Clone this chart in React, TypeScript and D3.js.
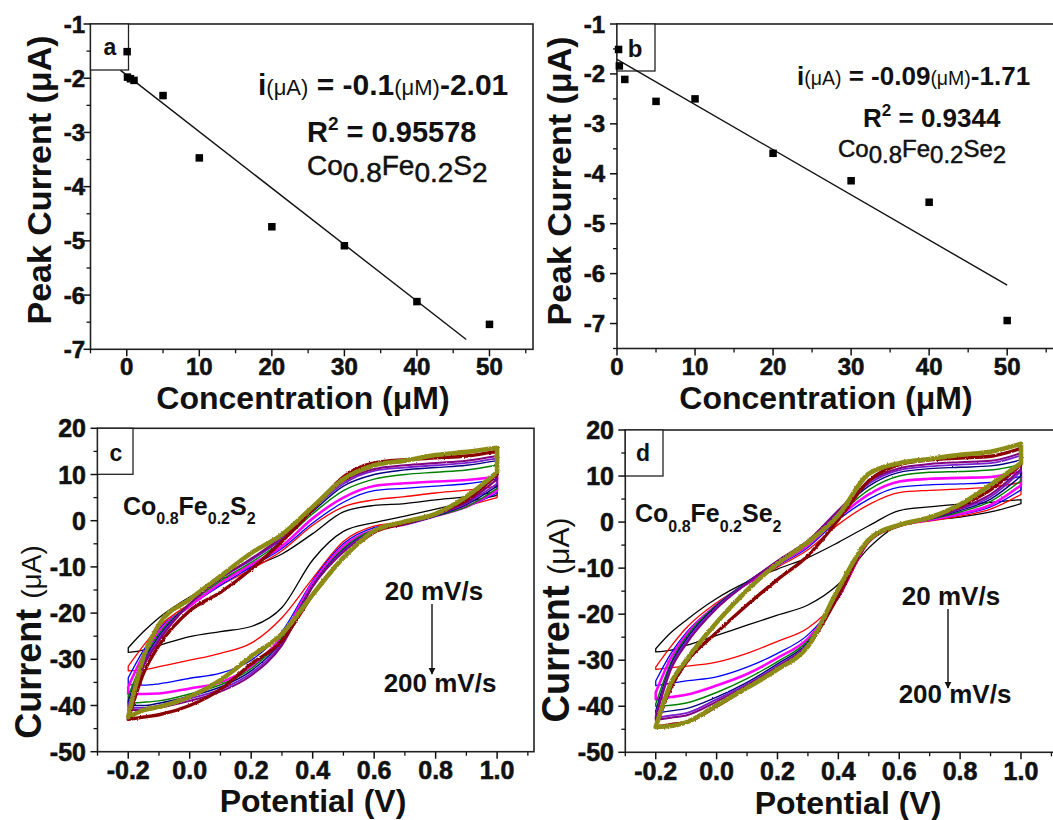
import React from "react";
import * as d3 from "d3";

const FONT = "'Liberation Sans', Arial, Helvetica, sans-serif";

// ---------------- Panel a: Co0.8Fe0.2S2 calibration ----------------
const CONC_A = [0.05, 0.1, 0.5, 1, 5, 10, 20, 30, 40, 50];
const PEAK_A = [-1.51, -1.98, -2.01, -2.04, -2.32, -3.47, -4.74, -5.09, -6.12, -6.54];
const FIT_A_X = [-0.9, 46.8];
const FIT_A_Y = [-1.85, -6.82];

// ---------------- Panel b: Co0.8Fe0.2Se2 calibration ----------------
const CONC_B = [0.2, 0.3, 1, 5, 10, 20, 30, 40, 50];
const PEAK_B = [-1.51, -1.84, -2.11, -2.55, -2.5, -3.59, -4.14, -4.57, -6.94];
const FIT_B_X = [0, 50];
const FIT_B_Y = [-1.71, -6.23];

// ---------------- tick values / labels ----------------
const CONC_TICKS = [0, 10, 20, 30, 40, 50];
const CONC_MINOR_A = [-5, 5, 15, 25, 35, 45, 55];
const CONC_MINOR_B = [5, 15, 25, 35, 45, 55];
const PEAK_TICKS_A = [-7, -6, -5, -4, -3, -2, -1];
const PEAK_MINOR_A = [-6.5, -5.5, -4.5, -3.5, -2.5, -1.5];
const PEAK_TICKS_B = [-7, -6, -5, -4, -3, -2, -1];
const PEAK_MINOR_B = [-7.5, -6.5, -5.5, -4.5, -3.5, -2.5, -1.5];
const POT_TICKS = [-0.2, 0, 0.2, 0.4, 0.6, 0.8, 1.0];
const POT_TICK_LABELS = ["-0.2", "0.0", "0.2", "0.4", "0.6", "0.8", "1.0"];
const POT_MINOR = [-0.3, -0.1, 0.1, 0.3, 0.5, 0.7, 0.9, 1.1];
const CUR_TICKS = [-50, -40, -30, -20, -10, 0, 10, 20];
const CUR_MINOR = [-45, -35, -25, -15, -5, 5, 15];

// ---------------- CV curves (panels c, d) ----------------
const POTENTIAL = [-0.2, -0.15, -0.1, 0, 0.1, 0.2, 0.3, 0.4, 0.5, 0.6, 0.7, 0.8, 0.9, 1.0];
const SCAN_RATES = [20, 40, 60, 80, 100, 120, 140, 160, 180, 200];
const CURVE_COLORS = ["#000000", "#ff0000", "#0000ff", "#ff00ff", "#008000", "#000080", "#7b1fd0", "#800080", "#8b0000", "#8c8c14"];
const CURVE_WIDTHS = [1.3, 1.3, 1.3, 2.6, 1.5, 1.4, 1.8, 2.0, 3.4, 4.6];
const CURVE_NOISE = [0, 0, 0, 1, 1, 1, 1, 1, 2, 2];

const CV_C_FORWARD = [
  [-27.5, -24, -21, -16.5, -12.8, -10, -7.2, -2.8, 1.9, 3.3, 3.7, 4.5, 5.2, 6.3],
  [-31.5, -27, -23, -18, -14, -10.5, -6.5, -1, 3, 4.5, 5.2, 6, 6.6, 7.5],
  [-34, -28, -23.5, -18.5, -14, -10, -6, -0.5, 4, 6.5, 7, 7.5, 8, 9],
  [-36, -29, -24, -18.5, -13.5, -9.5, -5.5, 0.5, 5, 7.5, 8.1, 8.5, 8.8, 9.5],
  [-38, -30, -24.5, -18, -13, -9, -4.5, 1.5, 6.5, 9, 10, 10.5, 11, 12],
  [-39, -30.5, -25, -18, -12.5, -8.5, -4, 2, 7.5, 10, 11, 11.5, 12, 13],
  [-40, -31, -25.5, -18, -12.5, -8.5, -3.8, 2.5, 8, 10.8, 11.5, 12, 12.5, 13.5],
  [-41, -31.5, -26, -18, -12.5, -8.2, -3.5, 3, 8.5, 11.2, 12, 12.5, 13, 14],
  [-43, -33, -27, -19.5, -15.5, -10.5, -4.5, 2.5, 9.5, 12.5, 13.2, 13.6, 14, 15],
  [-42.5, -29.4, -22.5, -17, -12, -7, -3, 3, 9, 12, 13, 14.2, 14.9, 15.8],
];
const CV_C_REVERSE = [
  [-28.5, -28, -27, -25.1, -24, -22.9, -18.8, -8.5, -2.3, -0.4, 1, 2.5, 4, 5.5],
  [-32.5, -32.3, -31.6, -30.2, -28.7, -26.5, -21, -12.5, -4.5, -1.2, -0.3, 1.5, 3.2, 5],
  [-35.5, -35.6, -35.3, -34.1, -33, -30.2, -24, -13, -5, -1.5, -0.5, 1.5, 3, 6],
  [-37.5, -37.5, -37.4, -36.3, -35, -31.5, -25, -13.5, -5.5, -2, -0.8, 1, 3, 6.5],
  [-39.5, -39.3, -39, -37.5, -35.5, -32, -25.5, -14, -6, -2, -0.8, 1, 3, 7],
  [-40, -40, -39.5, -38, -36, -32.5, -26, -14, -6.3, -2.2, -0.8, 1, 3.5, 7.5],
  [-40.5, -40.5, -40, -38.5, -36.5, -33, -26.5, -14.2, -6.5, -2.3, -0.7, 1.2, 3.8, 8],
  [-41, -41, -40.5, -39, -37, -33.5, -27, -14.3, -6.8, -2.4, -0.6, 1.4, 4, 9],
  [-43, -42.5, -42, -40, -36.5, -31, -26, -16, -8, -2.5, -0.5, 1.5, 4.5, 10],
  [-42.5, -41, -40.3, -38.1, -34.5, -29.4, -24.5, -16, -8, -2.2, -0.2, 1.5, 5.2, 10.5],
];
const CV_D_FORWARD = [
  [-27.5, -24, -21.3, -16.6, -13, -10.2, -7.7, -4.4, -0.8, 2.5, 3.3, 3.9, 4.3, 4.9],
  [-31.5, -27, -23, -17.5, -13.5, -9.8, -6, -0.5, 3.8, 6.4, 6.9, 7.2, 7.6, 8.6],
  [-34.5, -28.5, -24, -18, -13.5, -9.5, -5.5, 0.5, 5, 7.6, 8.1, 8.3, 8.6, 10],
  [-37, -29.5, -24.5, -18, -13.3, -9.2, -5, 1, 6, 8.8, 9.4, 9.6, 9.8, 11],
  [-39.5, -30.5, -25, -18, -13, -8.8, -4.6, 1.5, 7, 10, 10.8, 11, 11.3, 12.5],
  [-41, -31, -25.5, -18.2, -13, -8.6, -4.3, 2, 7.8, 10.8, 11.6, 11.9, 12.2, 13.5],
  [-42, -31.5, -26, -18.5, -13.2, -8.5, -4.1, 2.3, 8.3, 11.3, 12.1, 12.5, 12.8, 14.5],
  [-42.5, -32, -26.5, -18.8, -13.3, -8.4, -4, 2.6, 8.8, 11.7, 12.6, 13, 13.3, 15],
  [-44.5, -36, -30.5, -24, -18, -12.5, -7.3, 0.5, 9, 12.5, 13.5, 13.9, 14.3, 16],
  [-44.5, -35, -30, -21.8, -14.8, -9, -4.4, 1.5, 10.5, 12.8, 13.7, 14.6, 15.3, 17],
];
const CV_D_REVERSE = [
  [-28.2, -27.8, -26.8, -24.6, -22.4, -20.2, -18, -13.5, -5.6, -0.7, 0.4, 1.1, 2.2, 4],
  [-32, -31.6, -31.3, -30.4, -28.5, -25.9, -23, -16.5, -4.5, -0.8, 0.2, 1.3, 2.8, 6],
  [-35.5, -35, -34.5, -33.6, -31.5, -28.5, -24.5, -16.5, -4.3, -0.8, 0.4, 1.6, 3.3, 7],
  [-38.5, -38, -37.5, -35.5, -33, -29.5, -25.3, -16.3, -4.2, -0.8, 0.5, 1.8, 3.7, 8],
  [-40, -39.8, -39.3, -37, -34, -30.3, -25.8, -16.2, -4.1, -0.8, 0.6, 2.2, 4.5, 9],
  [-41.5, -41, -40.5, -38, -34.8, -30.8, -26.2, -16.1, -4, -0.8, 0.7, 2.5, 5, 10],
  [-42.5, -42, -41.5, -38.5, -35.2, -31.2, -26.5, -16, -3.9, -0.8, 0.8, 2.8, 5.5, 11],
  [-43, -42.5, -42, -39, -35.5, -31.5, -26.7, -16, -3.9, -0.8, 0.8, 3, 6, 11.5],
  [-44.5, -44, -43.5, -40, -36, -32, -27, -16, -4, -0.8, 0.9, 3.5, 7, 12.5],
  [-44.5, -44.3, -43.5, -39.8, -36, -32, -27, -14.5, -3.8, -0.6, 1, 3.8, 8.1, 12.8],
];

type Scale = d3.ScaleLinear<number, number>;

const HEAVY = { stroke: "#111", strokeWidth: 0.6, paintOrder: "stroke" as const };
const NOISE_FILTERS = ["", "url(#noiseWeak)", "url(#noiseStrong)"];

function YAxis({ sy, x, major, minor, labels, labelX, fontSize }: { sy: Scale; x: number; major: number[]; minor: number[]; labels: string[]; labelX: number; fontSize: number }) {
  return (
    <g>
      {major.map((v) => (
        <line key={"M" + v} x1={x} x2={x - 7} y1={sy(v)} y2={sy(v)} stroke="#111" strokeWidth={1.5} />
      ))}
      {minor.map((v) => (
        <line key={"m" + v} x1={x} x2={x - 4} y1={sy(v)} y2={sy(v)} stroke="#111" strokeWidth={1.3} />
      ))}
      {major.map((v, i) => (
        <text key={"t" + v} x={labelX} y={sy(v)} textAnchor="end" dominantBaseline="central" fontSize={fontSize} fontWeight="bold" fill="#111" style={HEAVY}>
          {labels[i]}
        </text>
      ))}
    </g>
  );
}

function XAxis({ sx, y, major, minor, labels, labelY, fontSize }: { sx: Scale; y: number; major: number[]; minor: number[]; labels: string[]; labelY: number; fontSize: number }) {
  return (
    <g>
      {major.map((v) => (
        <line key={"M" + v} x1={sx(v)} x2={sx(v)} y1={y} y2={y + 7} stroke="#111" strokeWidth={1.5} />
      ))}
      {minor.map((v) => (
        <line key={"m" + v} x1={sx(v)} x2={sx(v)} y1={y} y2={y + 4} stroke="#111" strokeWidth={1.3} />
      ))}
      {major.map((v, i) => (
        <text key={"t" + v} x={sx(v)} y={labelY} textAnchor="middle" fontSize={fontSize} fontWeight="bold" fill="#111" style={HEAVY}>
          {labels[i]}
        </text>
      ))}
    </g>
  );
}

function cvPath(up: number[], dn: number[], sx: Scale, sy: Scale) {
  const gen = d3
    .line<number>()
    .x((_, i) => sx(POTENTIAL[i]))
    .y((d) => sy(d))
    .curve(d3.curveMonotoneX);
  const n = POTENTIAL.length - 1;
  const a = gen(up) || "";
  const b = gen(dn) || "";
  const r = `M${sx(POTENTIAL[n])},${sy(up[n])}L${sx(POTENTIAL[n])},${sy(dn[n])}`;
  const l = `M${sx(POTENTIAL[0])},${sy(dn[0])}L${sx(POTENTIAL[0])},${sy(up[0])}`;
  return a + b + r + l;
}

function CVCurves({ fwd, rev, sx, sy }: { fwd: number[][]; rev: number[][]; sx: Scale; sy: Scale }) {
  return (
    <g fill="none" strokeLinejoin="round" strokeLinecap="round">
      {SCAN_RATES.map((rate, i) => (
        <path
          key={rate}
          d={cvPath(fwd[i], rev[i], sx, sy)}
          stroke={CURVE_COLORS[i]}
          strokeWidth={CURVE_WIDTHS[i]}
          filter={NOISE_FILTERS[CURVE_NOISE[i]] || undefined}
        />
      ))}
    </g>
  );
}

export default function App() {
  const xA = d3.scaleLinear().domain([-5, 56]).range([90.5, 533]);
  const yA = d3.scaleLinear().domain([-7, -1]).range([349.3, 24]);
  const xB = d3.scaleLinear().domain([0, 56]).range([617, 1054]);
  const yB = d3.scaleLinear().domain([-7.5, -1]).range([348.5, 24]);
  const xC = d3.scaleLinear().domain([-0.3, 1.12]).range([97.5, 534]);
  const yC = d3.scaleLinear().domain([-50, 20]).range([751.7, 428.3]);
  const xD = d3.scaleLinear().domain([-0.3, 1.12]).range([625.3, 1057.5]);
  const yD = d3.scaleLinear().domain([-50, 20]).range([752.3, 430]);

  const sq = 7.5;
  const concLabels = CONC_TICKS.map(String);
  const peakLabels = PEAK_TICKS_A.map(String);
  const curLabels = CUR_TICKS.map(String);

  return (
    <svg
      width={1053}
      height={820}
      viewBox="0 0 1053 820"
      style={{ position: "absolute", left: 0, top: 0, background: "#fff" }}
      fontFamily={FONT}
    >
      <defs>
        <filter id="noiseStrong" x="-5%" y="-5%" width="110%" height="110%">
          <feTurbulence type="fractalNoise" baseFrequency="0.7" numOctaves={1} seed={4} />
          <feDisplacementMap in="SourceGraphic" scale={2.6} xChannelSelector="R" yChannelSelector="G" />
        </filter>
        <filter id="noiseWeak" x="-5%" y="-5%" width="110%" height="110%">
          <feTurbulence type="fractalNoise" baseFrequency="0.8" numOctaves={1} seed={9} />
          <feDisplacementMap in="SourceGraphic" scale={1.8} xChannelSelector="R" yChannelSelector="G" />
        </filter>
        <marker id="arrowHead" viewBox="0 0 10 10" refX={9} refY={5} markerWidth={5} markerHeight={6} orient="auto">
          <path d="M0,0L10,5L0,10z" fill="#111" />
        </marker>
      </defs>
      <rect x={0} y={0} width={1053} height={820} fill="#fff" />

      {/* ================= Panel a ================= */}
      <g>
        <rect x={90.5} y={24} width={533 - 90.5} height={349.3 - 24} fill="none" stroke="#222" strokeWidth={1.6} />
        <path
          d={
            d3
              .line<number>()
              .x((d) => xA(d))
              .y((_, i) => yA(FIT_A_Y[i]))(FIT_A_X) || ""
          }
          stroke="#111"
          strokeWidth={1.4}
          fill="none"
        />
        <rect x={90.5} y={24} width={38} height={46} fill="#fff" stroke="#222" strokeWidth={1.3} />
        <text x={110} y={55} textAnchor="middle" fontSize={23} fontWeight="bold" fill="#111">a</text>
        {CONC_A.map((c, i) => (
          <rect key={i} x={xA(c) - sq / 2} y={yA(PEAK_A[i]) - sq / 2} width={sq} height={sq} fill="#000" />
        ))}
        <YAxis sy={yA} x={90.5} major={PEAK_TICKS_A} minor={PEAK_MINOR_A} labels={peakLabels} labelX={85} fontSize={24} />
        <XAxis sx={xA} y={349.3} major={CONC_TICKS} minor={CONC_MINOR_A} labels={concLabels} labelY={375} fontSize={24} />
        <text transform="translate(51,180) rotate(-90)" textAnchor="middle" fontSize={34} fontWeight="bold" fill="#111">
          Peak Current (μA)
        </text>
        <text x={303} y={409} textAnchor="middle" fontSize={32} fontWeight="bold" fill="#111">
          Concentration (μM)
        </text>
        <text x={258} y={95} fill="#111" style={{ whiteSpace: "pre" }}>
          <tspan fontSize={30} fontWeight="bold">i</tspan>
          <tspan fontSize={22}>(μA)</tspan>
          <tspan fontSize={30} fontWeight="bold"> = -0.1</tspan>
          <tspan fontSize={22}>(μM)</tspan>
          <tspan fontSize={30} fontWeight="bold">-2.01</tspan>
        </text>
        <text x={307} y={142} fill="#111" fontSize={29} fontWeight="bold" style={{ whiteSpace: "pre" }}>
          R<tspan dy={-12} fontSize={19}>2</tspan>
          <tspan dy={12}> = 0.95578</tspan>
        </text>
        <text x={307} y={175} fill="#111" fontSize={28} style={{ stroke: "#111", strokeWidth: 0.5 }}>
          Co<tspan dy={7}>0.8</tspan>
          <tspan dy={-7}>Fe</tspan>
          <tspan dy={7}>0.2</tspan>
          <tspan dy={-7}>S</tspan>
          <tspan dy={7}>2</tspan>
        </text>
      </g>

      {/* ================= Panel b ================= */}
      <g>
        <rect x={617} y={24} width={460} height={348.5 - 24} fill="none" stroke="#222" strokeWidth={1.6} />
        <rect x={617} y={24} width={38} height={47} fill="#fff" stroke="#222" strokeWidth={1.3} />
        <path
          d={
            d3
              .line<number>()
              .x((d) => xB(d))
              .y((_, i) => yB(FIT_B_Y[i]))(FIT_B_X) || ""
          }
          stroke="#111"
          strokeWidth={1.4}
          fill="none"
        />
        <text x={635} y={57} textAnchor="middle" fontSize={24} fontWeight="bold" fill="#111">b</text>
        {CONC_B.map((c, i) => (
          <rect key={i} x={xB(c) - sq / 2} y={yB(PEAK_B[i]) - sq / 2} width={sq} height={sq} fill="#000" />
        ))}
        <YAxis sy={yB} x={617} major={PEAK_TICKS_B} minor={PEAK_MINOR_B} labels={PEAK_TICKS_B.map(String)} labelX={605} fontSize={24} />
        <XAxis sx={xB} y={348.5} major={CONC_TICKS} minor={CONC_MINOR_B} labels={concLabels} labelY={375} fontSize={24} />
        <text transform="translate(571,181) rotate(-90)" textAnchor="middle" fontSize={34} fontWeight="bold" fill="#111">
          Peak Current (μA)
        </text>
        <text x={826} y={409} textAnchor="middle" fontSize={32} fontWeight="bold" fill="#111">
          Concentration (μM)
        </text>
        <text x={797} y={85} fill="#111" style={{ whiteSpace: "pre" }}>
          <tspan fontSize={26} fontWeight="bold">i</tspan>
          <tspan fontSize={19.5}>(μA)</tspan>
          <tspan fontSize={26} fontWeight="bold"> = -0.09</tspan>
          <tspan fontSize={19.5}>(μM)</tspan>
          <tspan fontSize={26} fontWeight="bold">-1.71</tspan>
        </text>
        <text x={863} y={127} fill="#111" fontSize={26} fontWeight="bold" style={{ whiteSpace: "pre" }}>
          R<tspan dy={-11} fontSize={17}>2</tspan>
          <tspan dy={11}> = 0.9344</tspan>
        </text>
        <text x={838} y={157} fill="#111" fontSize={24} style={{ stroke: "#111", strokeWidth: 0.5 }}>
          Co<tspan dy={6}>0.8</tspan>
          <tspan dy={-6}>Fe</tspan>
          <tspan dy={6}>0.2</tspan>
          <tspan dy={-6}>Se</tspan>
          <tspan dy={6}>2</tspan>
        </text>
      </g>

      {/* ================= Panel c ================= */}
      <g>
        <rect x={97.5} y={428.3} width={534 - 97.5} height={751.7 - 428.3} fill="none" stroke="#222" strokeWidth={1.6} />
        <rect x={97.5} y={428.3} width={35.5} height={46} fill="#fff" stroke="#222" strokeWidth={1.3} />
        <text x={116} y={461} textAnchor="middle" fontSize={23} fontWeight="bold" fill="#111">c</text>
        <CVCurves fwd={CV_C_FORWARD} rev={CV_C_REVERSE} sx={xC} sy={yC} />
        <YAxis sy={yC} x={97.5} major={CUR_TICKS} minor={CUR_MINOR} labels={curLabels} labelX={86} fontSize={25} />
        <XAxis sx={xC} y={751.7} major={POT_TICKS} minor={POT_MINOR} labels={POT_TICK_LABELS} labelY={779} fontSize={25} />
        <text transform="translate(41,642) rotate(-90)" textAnchor="middle" fill="#111">
          <tspan fontSize={36} fontWeight="bold">Current </tspan>
          <tspan fontSize={28}>(μA)</tspan>
        </text>
        <text x={313} y={812} textAnchor="middle" fontSize={32} fontWeight="bold" fill="#111">
          Potential (V)
        </text>
        <text x={123} y={515} fill="#111" fontSize={25} fontWeight="bold">
          Co<tspan dy={9} fontSize={16}>0.8</tspan>
          <tspan dy={-9} fontSize={25}>Fe</tspan>
          <tspan dy={9} fontSize={16}>0.2</tspan>
          <tspan dy={-9} fontSize={25}>S</tspan>
          <tspan dy={9} fontSize={16}>2</tspan>
        </text>
        <text x={434} y={600} textAnchor="middle" fontSize={26} fontWeight="bold" fill="#111">20 mV/s</text>
        <line x1={432} x2={432} y1={604} y2={674} stroke="#111" strokeWidth={1.4} markerEnd="url(#arrowHead)" />
        <text x={440} y={692} textAnchor="middle" fontSize={26} fontWeight="bold" fill="#111">200 mV/s</text>
      </g>

      {/* ================= Panel d ================= */}
      <g>
        <rect x={625.3} y={430} width={460} height={752.3 - 430} fill="none" stroke="#222" strokeWidth={1.6} />
        <rect x={625.3} y={430} width={37.7} height={46} fill="#fff" stroke="#222" strokeWidth={1.3} />
        <text x={643} y={461} textAnchor="middle" fontSize={23} fontWeight="bold" fill="#111">d</text>
        <CVCurves fwd={CV_D_FORWARD} rev={CV_D_REVERSE} sx={xD} sy={yD} />
        <YAxis sy={yD} x={625.3} major={CUR_TICKS} minor={CUR_MINOR} labels={curLabels} labelX={614} fontSize={25} />
        <XAxis sx={xD} y={752.3} major={POT_TICKS} minor={POT_MINOR} labels={POT_TICK_LABELS} labelY={780} fontSize={25} />
        <text transform="translate(569,620) rotate(-90)" textAnchor="middle" fill="#111">
          <tspan fontSize={38} fontWeight="bold">Current </tspan>
          <tspan fontSize={30}>(μA)</tspan>
        </text>
        <text x={848} y={814} textAnchor="middle" fontSize={32} fontWeight="bold" fill="#111">
          Potential (V)
        </text>
        <text x={635} y={522} fill="#111" fontSize={25} fontWeight="bold">
          Co<tspan dy={10} fontSize={16}>0.8</tspan>
          <tspan dy={-10} fontSize={25}>Fe</tspan>
          <tspan dy={10} fontSize={16}>0.2</tspan>
          <tspan dy={-10} fontSize={25}>Se</tspan>
          <tspan dy={10} fontSize={16}>2</tspan>
        </text>
        <text x={951} y={605} textAnchor="middle" fontSize={26} fontWeight="bold" fill="#111">20 mV/s</text>
        <line x1={948} x2={948} y1={609} y2={688} stroke="#111" strokeWidth={1.4} markerEnd="url(#arrowHead)" />
        <text x={955} y={703} textAnchor="middle" fontSize={26} fontWeight="bold" fill="#111">200 mV/s</text>
      </g>
    </svg>
  );
}
